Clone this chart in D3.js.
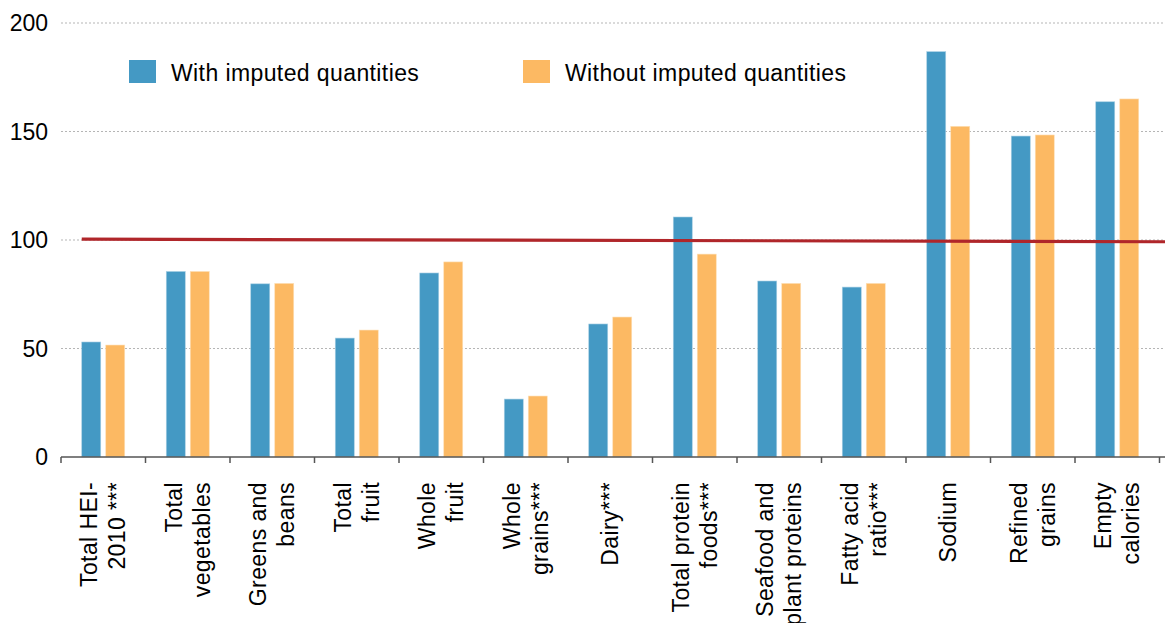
<!DOCTYPE html>
<html>
<head>
<meta charset="utf-8">
<script src="https://cdn.jsdelivr.net/npm/d3@7"></script>
<style>
body { margin: 0; background: #fff; }
text { font-family: "Liberation Sans", Arial, sans-serif; }
</style>
</head>
<body>
<div id="chart"></div>
<script>
// categories, each as lines of the rotated label
let cats = [
  ["Total HEI-", "2010 ***"],
  ["Total", "vegetables"],
  ["Greens and", "beans"],
  ["Total", "fruit"],
  ["Whole", "fruit"],
  ["Whole", "grains***"],
  ["Dairy***"],
  ["Total protein", "foods***"],
  ["Seafood and", "plant proteins"],
  ["Fatty acid", "ratio***"],
  ["Sodium"],
  ["Refined", "grains"],
  ["Empty", "calories"]
];
let withImp = [53, 85.5, 79.8, 54.8, 84.8, 26.7, 61.3, 110.6, 81.1, 78.3, 186.8, 147.9, 163.7];
let withoutImp = [51.6, 85.5, 80, 58.5, 89.9, 28.1, 64.5, 93.5, 80, 80, 152.4, 148.4, 165];
let seriesNames = ["With imputed quantities", "Without imputed quantities"];
let yTicks = [0, 50, 100, 150, 200];
let refLine = [100.4, 99.2]; // red line, start and end

const W = 1165, H = 623;
const margin = { top: 23, left: 61, right: 5, bottom: 166 };
const fs = 23;

let svg = d3.select("#chart").append("svg")
  .attr("width", W).attr("height", H);

let xScale = d3.scaleBand()
  .domain(d3.range(cats.length))
  .range([margin.left, margin.left + 84.5 * cats.length])
  .paddingInner(0).paddingOuter(0);

let yScale = d3.scaleLinear()
  .domain([0, 200])
  .range([H - margin.bottom, margin.top]);

// grid
svg.append("g").selectAll("line")
  .data(yTicks.filter(d => d > 0))
  .join("line")
  .attr("x1", margin.left).attr("x2", W)
  .attr("y1", d => yScale(d)).attr("y2", d => yScale(d))
  .attr("stroke", "#b5b5b5").attr("stroke-width", 1.2)
  .attr("stroke-dasharray", "2,2");

// y labels
svg.append("g").selectAll("text")
  .data(yTicks)
  .join("text")
  .attr("x", 48).attr("y", d => yScale(d) + 8)
  .attr("text-anchor", "end")
  .attr("font-size", fs)
  .text(d => d);

// bars
let bw = 19, gap = 5;
let bars = svg.append("g");
bars.selectAll(".b1").data(withImp).join("rect")
  .attr("x", (d, i) => xScale(i) + xScale.bandwidth() / 2 - bw - gap / 2)
  .attr("y", d => yScale(d))
  .attr("width", bw)
  .attr("height", d => yScale(0) - yScale(d))
  .attr("fill", "#4499c4")
  .attr("stroke", "#a9d0e4").attr("stroke-width", 0.6);
bars.selectAll(".b2").data(withoutImp).join("rect")
  .attr("x", (d, i) => xScale(i) + xScale.bandwidth() / 2 + gap / 2)
  .attr("y", d => yScale(d))
  .attr("width", bw)
  .attr("height", d => yScale(0) - yScale(d))
  .attr("fill", "#fcb963")
  .attr("stroke", "#fde0b8").attr("stroke-width", 0.6);

// x axis
svg.append("line")
  .attr("x1", margin.left).attr("x2", W)
  .attr("y1", yScale(0)).attr("y2", yScale(0))
  .attr("stroke", "#555").attr("stroke-width", 1.5);
svg.append("g").selectAll("line")
  .data(d3.range(cats.length + 1))
  .join("line")
  .attr("x1", i => margin.left + i * xScale.bandwidth())
  .attr("x2", i => margin.left + i * xScale.bandwidth())
  .attr("y1", yScale(0)).attr("y2", yScale(0) + 6)
  .attr("stroke", "#555").attr("stroke-width", 1.5);

// x labels, rotated
let lh = 28;
cats.forEach((lines, i) => {
  let cx = xScale(i) + xScale.bandwidth() / 2;
  let n = lines.length;
  lines.forEach((t, j) => {
    let off = (j - (n - 1) / 2) * lh;
    let xx = cx + off + 8;
    svg.append("text")
      .attr("transform", `translate(${xx},482) rotate(-90)`)
      .attr("text-anchor", "end")
      .attr("font-size", fs)
      .attr("letter-spacing", 0.4)
      .text(t);
  });
});

// red reference line
svg.append("line")
  .attr("x1", xScale(0) + xScale.bandwidth() / 2 - bw - gap / 2)
  .attr("x2", W)
  .attr("y1", yScale(refLine[0])).attr("y2", yScale(refLine[1]))
  .attr("stroke", "#b0262a").attr("stroke-width", 3.2);

// legend
let lg = svg.append("g");
let lx = [129, 523];
seriesNames.forEach((s, i) => {
  lg.append("rect")
    .attr("x", lx[i]).attr("y", 60).attr("width", 27).attr("height", 23)
    .attr("fill", i === 0 ? "#4499c4" : "#fcb963");
  lg.append("text")
    .attr("x", lx[i] + 42).attr("y", 81)
    .attr("font-size", fs)
    .attr("letter-spacing", 0.4)
    .text(s);
});
</script>
</body>
</html>
